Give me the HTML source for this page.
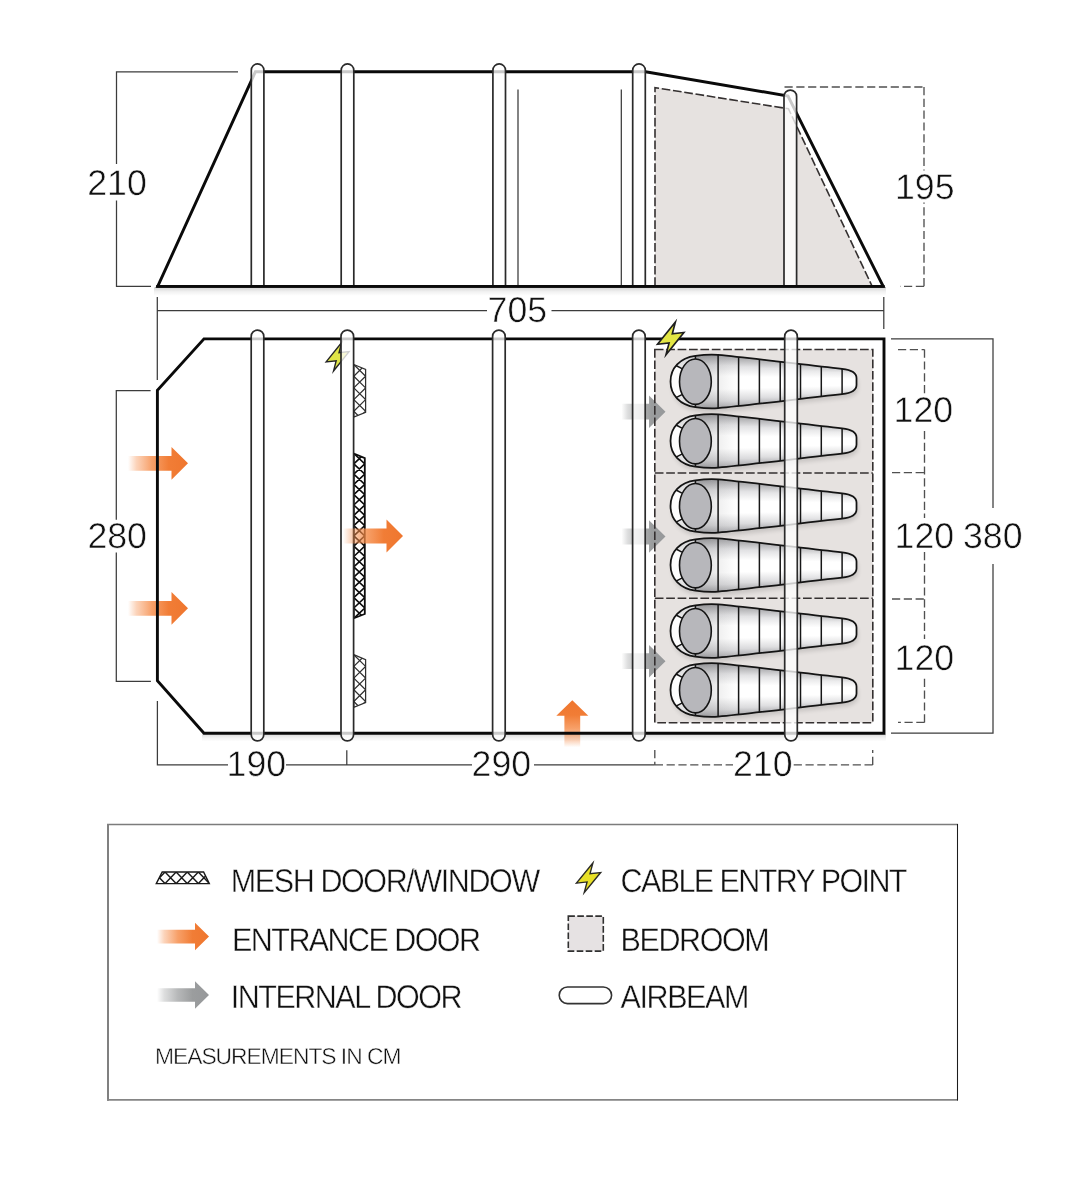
<!DOCTYPE html>
<html><head><meta charset="utf-8"><title>Tent floorplan</title>
<style>
html,body{margin:0;padding:0;background:#fff;}
body{width:1067px;height:1200px;overflow:hidden;font-family:"Liberation Sans",sans-serif;}
svg{display:block;position:absolute;left:0;top:0;}
text{font-family:"Liberation Sans",sans-serif;fill:#111;opacity:0.995;text-rendering:geometricPrecision;}
.num{font-size:35.7px;stroke:#fff;stroke-width:0.55px;}
.lg{font-size:30.5px;letter-spacing:-1.4px;stroke:#fff;stroke-width:0.4px;}
.sm{font-size:22.8px;letter-spacing:-1.0px;stroke:#fff;stroke-width:0.45px;}
.dim{stroke:#3c3c3c;stroke-width:1.25;fill:none;}
.dash{stroke:#505050;stroke-width:1.35;fill:none;stroke-dasharray:8.2 3.6;}
.wall{stroke:#0a0a0a;stroke-width:2.9;fill:none;stroke-linejoin:miter;}
</style></head><body>
<svg width="1067" height="1200" viewBox="0 0 1067 1200">
<defs>
<linearGradient id="gOr" x1="0" y1="0" x2="1" y2="0">
<stop offset="0" stop-color="#f68d4b" stop-opacity="0"/>
<stop offset="0.14" stop-color="#f68d4b" stop-opacity="0.38"/>
<stop offset="0.4" stop-color="#f58843" stop-opacity="0.8"/>
<stop offset="0.68" stop-color="#f17d36" stop-opacity="1"/>
<stop offset="1" stop-color="#ef762e" stop-opacity="1"/>
</linearGradient>
<linearGradient id="gGr" x1="0" y1="0" x2="1" y2="0">
<stop offset="0" stop-color="#a6a8a9" stop-opacity="0"/>
<stop offset="0.14" stop-color="#a6a8a9" stop-opacity="0.38"/>
<stop offset="0.4" stop-color="#a2a4a5" stop-opacity="0.78"/>
<stop offset="0.68" stop-color="#9b9d9e" stop-opacity="1"/>
<stop offset="1" stop-color="#96989a" stop-opacity="1"/>
</linearGradient>
<linearGradient id="gBag" x1="0" y1="0" x2="0" y2="1">
<stop offset="0" stop-color="#9a9a9c"/>
<stop offset="0.22" stop-color="#e2e2e3"/>
<stop offset="0.42" stop-color="#ffffff"/>
<stop offset="0.62" stop-color="#ffffff"/>
<stop offset="0.85" stop-color="#d6d6d8"/>
<stop offset="1" stop-color="#a4a4a6"/>
</linearGradient>
<linearGradient id="gBagH" x1="0" y1="0" x2="1" y2="0">
<stop offset="0" stop-color="#77777a" stop-opacity="0.4"/>
<stop offset="0.2" stop-color="#88888a" stop-opacity="0.22"/>
<stop offset="0.36" stop-color="#999" stop-opacity="0"/>
<stop offset="1" stop-color="#999" stop-opacity="0"/>
</linearGradient>
<linearGradient id="gSh" x1="0" y1="0" x2="0" y2="1">
<stop offset="0" stop-color="#000" stop-opacity="0.17"/>
<stop offset="0.5" stop-color="#000" stop-opacity="0.055"/>
<stop offset="1" stop-color="#000" stop-opacity="0"/>
</linearGradient>
<filter id="soft" x="-20%" y="-20%" width="140%" height="140%"><feGaussianBlur stdDeviation="0.6"/></filter>
<filter id="bagsh" x="-10%" y="-20%" width="120%" height="150%"><feGaussianBlur stdDeviation="2"/></filter>
<g id="bag">
<path id="bagp" d="M0,0 C0,-13.5 9.5,-23.6 24.9,-25.6 C32,-26.6 40,-27.2 47.6,-26.6 C80,-23.6 130,-17.2 171.6,-12.6 C180.5,-11.6 186,-8.2 186,-3.4 V3.4 C186,8.2 180.5,11.6 171.6,12.6 C130,17.2 80,23.6 47.6,26.6 C40,27.2 32,26.6 24.9,25.6 C9.5,23.6 0,13.5 0,0 Z" stroke="none"/><clipPath id="bagclip"><path d="M0,0 C0,-13.5 9.5,-23.6 24.9,-25.6 C32,-26.6 40,-27.2 47.6,-26.6 C80,-23.6 130,-17.2 171.6,-12.6 C180.5,-11.6 186,-8.2 186,-3.4 V3.4 C186,8.2 180.5,11.6 171.6,12.6 C130,17.2 80,23.6 47.6,26.6 C40,27.2 32,26.6 24.9,25.6 C9.5,23.6 0,13.5 0,0 Z"/></clipPath><linearGradient id="sg0" gradientUnits="userSpaceOnUse" x1="0" y1="-26.9" x2="0" y2="26.9"><stop offset="0" stop-color="#969699"/><stop offset="0.2" stop-color="#dedee0"/><stop offset="0.4" stop-color="#ffffff"/><stop offset="0.64" stop-color="#ffffff"/><stop offset="0.86" stop-color="#d6d6d8"/><stop offset="1" stop-color="#a0a0a3"/></linearGradient><linearGradient id="sg1" gradientUnits="userSpaceOnUse" x1="0" y1="-26.9" x2="0" y2="26.9"><stop offset="0" stop-color="#9d9da0"/><stop offset="0.2" stop-color="#e0e0e2"/><stop offset="0.4" stop-color="#ffffff"/><stop offset="0.64" stop-color="#ffffff"/><stop offset="0.86" stop-color="#d9d9db"/><stop offset="1" stop-color="#a6a6a9"/></linearGradient><linearGradient id="sg2" gradientUnits="userSpaceOnUse" x1="0" y1="-24.3" x2="0" y2="24.3"><stop offset="0" stop-color="#a4a4a6"/><stop offset="0.2" stop-color="#e2e2e4"/><stop offset="0.4" stop-color="#ffffff"/><stop offset="0.64" stop-color="#ffffff"/><stop offset="0.86" stop-color="#dbdbdd"/><stop offset="1" stop-color="#acacaf"/></linearGradient><linearGradient id="sg3" gradientUnits="userSpaceOnUse" x1="0" y1="-21.9" x2="0" y2="21.9"><stop offset="0" stop-color="#aaaaad"/><stop offset="0.2" stop-color="#e4e4e6"/><stop offset="0.4" stop-color="#ffffff"/><stop offset="0.64" stop-color="#ffffff"/><stop offset="0.86" stop-color="#dedee0"/><stop offset="1" stop-color="#b2b2b5"/></linearGradient><linearGradient id="sg4" gradientUnits="userSpaceOnUse" x1="0" y1="-19.6" x2="0" y2="19.6"><stop offset="0" stop-color="#b1b1b3"/><stop offset="0.2" stop-color="#e6e6e8"/><stop offset="0.4" stop-color="#ffffff"/><stop offset="0.64" stop-color="#ffffff"/><stop offset="0.86" stop-color="#e1e1e2"/><stop offset="1" stop-color="#b8b8bb"/></linearGradient><linearGradient id="sg5" gradientUnits="userSpaceOnUse" x1="0" y1="-17.4" x2="0" y2="17.4"><stop offset="0" stop-color="#b8b8ba"/><stop offset="0.2" stop-color="#e9e9ea"/><stop offset="0.4" stop-color="#ffffff"/><stop offset="0.64" stop-color="#ffffff"/><stop offset="0.86" stop-color="#e3e3e5"/><stop offset="1" stop-color="#bfbfc1"/></linearGradient><linearGradient id="sg6" gradientUnits="userSpaceOnUse" x1="0" y1="-15.0" x2="0" y2="15.0"><stop offset="0" stop-color="#bebec0"/><stop offset="0.2" stop-color="#ebebec"/><stop offset="0.4" stop-color="#ffffff"/><stop offset="0.64" stop-color="#ffffff"/><stop offset="0.86" stop-color="#e6e6e7"/><stop offset="1" stop-color="#c5c5c6"/></linearGradient><linearGradient id="sg7" gradientUnits="userSpaceOnUse" x1="0" y1="-12.6" x2="0" y2="12.6"><stop offset="0" stop-color="#c5c5c7"/><stop offset="0.2" stop-color="#ededee"/><stop offset="0.4" stop-color="#ffffff"/><stop offset="0.64" stop-color="#ffffff"/><stop offset="0.86" stop-color="#e8e8ea"/><stop offset="1" stop-color="#cbcbcc"/></linearGradient><g clip-path="url(#bagclip)"><rect x="-0.3" y="-28" width="48.2" height="56" fill="url(#sg0)"/><rect x="47.3" y="-28" width="21.1" height="56" fill="url(#sg1)"/><rect x="67.8" y="-28" width="21.4" height="56" fill="url(#sg2)"/><rect x="88.6" y="-28" width="21.4" height="56" fill="url(#sg3)"/><rect x="109.4" y="-28" width="20.9" height="56" fill="url(#sg4)"/><rect x="129.7" y="-28" width="21.4" height="56" fill="url(#sg5)"/><rect x="150.5" y="-28" width="21.4" height="56" fill="url(#sg6)"/><rect x="171.3" y="-28" width="16.0" height="56" fill="url(#sg7)"/></g>
<path d="M0,0 C0,-13.5 9.5,-23.6 24.9,-25.6 C32,-26.6 40,-27.2 47.6,-26.6 C80,-23.6 130,-17.2 171.6,-12.6 C180.5,-11.6 186,-8.2 186,-3.4 V3.4 C186,8.2 180.5,11.6 171.6,12.6 C130,17.2 80,23.6 47.6,26.6 C40,27.2 32,26.6 24.9,25.6 C9.5,23.6 0,13.5 0,0 Z" fill="url(#gBagH)" stroke="none"/>
<path d="M24.9,-25.6 C9.5,-23.6 0,-13.5 0,0 C0,13.5 9.5,23.6 24.9,25.6 Z" fill="#fff" fill-opacity="0.6"/><path d="M5.3,-15.8 C1.5,-10.5 0.8,-5 0.8,0 C0.8,5 1.5,10.5 5.3,16 L11.8,13.2 C9.6,9 9,4.5 9,0.2 C9,-4.5 9.6,-8.6 11.8,-12.8 Z" fill="#fff" fill-opacity="0.9"/>
<path d="M47.6,-26.6 V26.6 M68.1,-24.3 V24.3 M88.9,-21.9 V21.9 M109.7,-19.6 V19.6 M130,-17.4 V17.4 M150.8,-15 V15 M171.6,-12.6 V12.6" stroke="#161616" stroke-width="1.5" fill="none"/>
<path d="M0,0 C0,-13.5 9.5,-23.6 24.9,-25.6 C32,-26.6 40,-27.2 47.6,-26.6 C80,-23.6 130,-17.2 171.6,-12.6 C180.5,-11.6 186,-8.2 186,-3.4 V3.4 C186,8.2 180.5,11.6 171.6,12.6 C130,17.2 80,23.6 47.6,26.6 C40,27.2 32,26.6 24.9,25.6 C9.5,23.6 0,13.5 0,0 Z" fill="none" stroke="#141414" stroke-width="1.75"/>
<ellipse cx="24.9" cy="0.2" rx="15.9" ry="22.7" fill="#b7b7bb" stroke="#141414" stroke-width="1.6"/>
<path d="M24.9,-25.6 V-22.5 M24.9,25.6 V22.9 M5.5,-16 L11.4,-12.8 M5.5,16.2 L11.4,13.2" stroke="#141414" stroke-width="1.5" fill="none"/>
</g>
<g id="arrO"><path d="M0,-7.4 H43.5 V-16.4 L60,0 L43.5,16.4 V7.4 H0 Z" fill="url(#gOr)"/></g>
<g id="arrG"><path d="M0,-7.9 H27.5 V-16.3 L44,0 L27.5,16.3 V7.9 H0 Z" fill="url(#gGr)"/></g>
<path id="bolt" d="M4.7,-16.4 L-13.2,5.9 L-1.6,4.6 L-4.7,16.4 L13.2,-5.9 L1.6,-4.6 Z" stroke-linejoin="miter" stroke-miterlimit="8"/>
</defs>

<!-- side elevation -->
<rect x="154" y="287.4" width="732" height="8.5" fill="url(#gSh)"/>
<polygon points="655,87.6 788.5,108.8 872,286 655,286" fill="#e6e2e0"/>
<path class="dash" style="stroke:#343030;stroke-width:1.6;stroke-dasharray:8.7 2.7" d="M655,286 V87.6 L788.5,108.8 L872,286"/>
<path d="M518,89.5 V286 M621.3,89.5 V286" stroke="#333" stroke-width="1.2" fill="none"/>
<path class="wall" d="M157.7,286.4 L255.4,71.8 H645.5 L788,96 L883.2,286.4 Z"/>
<path d="M251.3,287 V70.2 a6.3,6.3 0 0 1 12.6,0 V287" fill="#fff" fill-opacity="0.78" stroke="#2a2a2a" stroke-width="1.7"/>
<path d="M341.2,287 V70.2 a6.3,6.3 0 0 1 12.6,0 V287" fill="#fff" fill-opacity="0.78" stroke="#2a2a2a" stroke-width="1.7"/>
<path d="M492.9,287 V70.2 a6.3,6.3 0 0 1 12.6,0 V287" fill="#fff" fill-opacity="0.78" stroke="#2a2a2a" stroke-width="1.7"/>
<path d="M632.7,287 V70.2 a6.3,6.3 0 0 1 12.6,0 V287" fill="#fff" fill-opacity="0.78" stroke="#2a2a2a" stroke-width="1.7"/>
<path d="M784.0,287 V96.4 a6.3,6.3 0 0 1 12.6,0 V287" fill="#fff" fill-opacity="0.78" stroke="#2a2a2a" stroke-width="1.7"/>
<path d="M156.2,286.4 H884.6" stroke="#0a0a0a" stroke-width="2.9" fill="none"/>
<path class="dim" d="M238,71.8 H116.5 V164 M116.5,200.5 V286.3 H151"/>
<text class="num" x="87.2" y="195">210</text>
<path class="dash" d="M784.5,87 H924 M924,87 V170.6 M924,286.3 V202.5 M924,286.3 H900"/>
<text class="num" x="895" y="199.3">195</text>
<path class="dim" d="M157.3,297 V380 M157.3,310.6 H487 M551.5,310.6 H883.8 M883.8,297 V329"/>
<text class="num" x="487.6" y="321.5">705</text>
<!-- plan -->
<rect x="202" y="734.2" width="684" height="7.5" fill="url(#gSh)" opacity="0.85"/>
<rect x="654.8" y="349.5" width="218" height="373.2" fill="#e6e2e0"/>
<use href="#arrG" transform="translate(621.5,411.7)"/>
<use href="#arrG" transform="translate(621.5,536.5)"/>
<use href="#arrG" transform="translate(621.5,661.2)"/>
<path style="stroke:#343030;stroke-width:1.6;stroke-dasharray:8.7 2.7;fill:none" d="M654.8,349.5 H872.8 V722.7 H654.8 Z M654.8,473 H872.8 M654.8,598.2 H872.8"/>
<use href="#bagp" transform="translate(672,385.5)" style="fill:#000" opacity="0.13" filter="url(#bagsh)"/>
<use href="#bagp" transform="translate(672,445)" style="fill:#000" opacity="0.13" filter="url(#bagsh)"/>
<use href="#bagp" transform="translate(672,510)" style="fill:#000" opacity="0.13" filter="url(#bagsh)"/>
<use href="#bagp" transform="translate(672,569)" style="fill:#000" opacity="0.13" filter="url(#bagsh)"/>
<use href="#bagp" transform="translate(672,635)" style="fill:#000" opacity="0.13" filter="url(#bagsh)"/>
<use href="#bagp" transform="translate(672,694)" style="fill:#000" opacity="0.13" filter="url(#bagsh)"/>
<use href="#bag" transform="translate(670.5,381.5)"/>
<use href="#bag" transform="translate(670.5,441)"/>
<use href="#bag" transform="translate(670.5,506)"/>
<use href="#bag" transform="translate(670.5,565)"/>
<use href="#bag" transform="translate(670.5,631)"/>
<use href="#bag" transform="translate(670.5,690)"/>
<use href="#arrO" transform="translate(128,463.3)"/>
<use href="#arrO" transform="translate(128,608.3)"/>
<path transform="translate(572.3,747.2) rotate(-90)" d="M0,-7.9 H31.4 V-16 L47,0 L31.4,16 V7.9 H0 Z" fill="url(#gOr)"/>
<path class="wall" d="M204,338.9 H884 V733.2 H204 L157.4,680.8 V390.2 Z"/>
<clipPath id="mc1"><path d="M353.8,364.5 L365.6,369.4 V412.4 L353.8,417 Z"/></clipPath><path d="M353.80,364.50 L365.60,376.20 M365.60,364.50 L353.80,376.20 M353.80,376.20 L365.60,387.90 M365.60,376.20 L353.80,387.90 M353.80,387.90 L365.60,399.60 M365.60,387.90 L353.80,399.60 M353.80,399.60 L365.60,411.30 M365.60,399.60 L353.80,411.30 M353.80,411.30 L365.60,423.00 M365.60,411.30 L353.80,423.00" clip-path="url(#mc1)" stroke="#303030" stroke-width="1.25" fill="none"/><path d="M353.8,364.5 L365.6,369.4 V412.4 L353.8,417 Z" fill="none" stroke="#303030" stroke-width="1.25" stroke-linejoin="miter"/>
<clipPath id="mc2"><path d="M353.8,453.5 L364.8,458.2 V614 L353.8,618.3 Z"/></clipPath><path d="M353.80,453.50 L364.80,463.80 M364.80,453.50 L353.80,463.80 M353.80,463.80 L364.80,474.10 M364.80,463.80 L353.80,474.10 M353.80,474.10 L364.80,484.40 M364.80,474.10 L353.80,484.40 M353.80,484.40 L364.80,494.70 M364.80,484.40 L353.80,494.70 M353.80,494.70 L364.80,505.00 M364.80,494.70 L353.80,505.00 M353.80,505.00 L364.80,515.30 M364.80,505.00 L353.80,515.30 M353.80,515.30 L364.80,525.60 M364.80,515.30 L353.80,525.60 M353.80,525.60 L364.80,535.90 M364.80,525.60 L353.80,535.90 M353.80,535.90 L364.80,546.20 M364.80,535.90 L353.80,546.20 M353.80,546.20 L364.80,556.50 M364.80,546.20 L353.80,556.50 M353.80,556.50 L364.80,566.80 M364.80,556.50 L353.80,566.80 M353.80,566.80 L364.80,577.10 M364.80,566.80 L353.80,577.10 M353.80,577.10 L364.80,587.40 M364.80,577.10 L353.80,587.40 M353.80,587.40 L364.80,597.70 M364.80,587.40 L353.80,597.70 M353.80,597.70 L364.80,608.00 M364.80,597.70 L353.80,608.00 M353.80,608.00 L364.80,618.30 M364.80,608.00 L353.80,618.30 M353.80,618.30 L364.80,628.60 M364.80,618.30 L353.80,628.60" clip-path="url(#mc2)" stroke="#0c0c0c" stroke-width="1.6" fill="none"/><path d="M353.8,453.5 L364.8,458.2 V614 L353.8,618.3 Z" fill="none" stroke="#0c0c0c" stroke-width="1.8" stroke-linejoin="miter"/>
<clipPath id="mc3"><path d="M353.8,654.7 L365.6,659.6 V702.6 L353.8,707.3 Z"/></clipPath><path d="M353.80,654.70 L365.60,666.40 M365.60,654.70 L353.80,666.40 M353.80,666.40 L365.60,678.10 M365.60,666.40 L353.80,678.10 M353.80,678.10 L365.60,689.80 M365.60,678.10 L353.80,689.80 M353.80,689.80 L365.60,701.50 M365.60,689.80 L353.80,701.50 M353.80,701.50 L365.60,713.20 M365.60,701.50 L353.80,713.20" clip-path="url(#mc3)" stroke="#303030" stroke-width="1.25" fill="none"/><path d="M353.8,654.7 L365.6,659.6 V702.6 L353.8,707.3 Z" fill="none" stroke="#303030" stroke-width="1.25" stroke-linejoin="miter"/>
<use href="#bolt" transform="translate(337.6,356.75) scale(0.87)" fill="#e0e548" stroke="#242424" stroke-width="1.55"/>
<rect x="251.2" y="330.1" width="12.6" height="410.79999999999995" rx="6.3" ry="6.3" fill="#fff" fill-opacity="0.78" stroke="#2a2a2a" stroke-width="1.7" />
<rect x="341.0" y="330.1" width="12.6" height="410.79999999999995" rx="6.3" ry="6.3" fill="#fff" fill-opacity="0.78" stroke="#2a2a2a" stroke-width="1.7" />
<rect x="492.6" y="330.1" width="12.6" height="410.79999999999995" rx="6.3" ry="6.3" fill="#fff" fill-opacity="0.78" stroke="#2a2a2a" stroke-width="1.7" />
<rect x="632.6" y="330.1" width="12.6" height="410.79999999999995" rx="6.3" ry="6.3" fill="#fff" fill-opacity="0.78" stroke="#2a2a2a" stroke-width="1.7" />
<rect x="784.7" y="330.1" width="12.6" height="410.79999999999995" rx="6.3" ry="6.3" fill="#fff" fill-opacity="0.78" stroke="#2a2a2a" stroke-width="1.7" />
<use href="#bolt" transform="translate(670.7,338.4)" fill="#e3e644" stroke="#1e1e1e" stroke-width="1.65"/>
<use href="#arrO" transform="translate(343,536)"/>
<path class="dim" d="M150.6,390.6 H116.3 V519.7 M116.3,552.5 V681.3 H150.9"/>
<text class="num" x="87.4" y="548">280</text>
<path class="dim" d="M157.4,701 V764.9 H228 M286,764.9 H472 M534,764.9 H654.8 M346.8,750.3 V764.9"/>
<path class="dash" d="M654.8,750 V764.9 M654.8,764.9 H733 M872.7,764.9 H793.5 M872.7,764.9 V750"/>
<text class="num" x="226.6" y="775.6">190</text>
<text class="num" x="471.6" y="776">290</text>
<text class="num" x="733" y="776">210</text>
<path class="dim" d="M891,338.8 H993 V508 M993,564 V733 H891"/>
<path class="dash" d="M898,349.6 H924.5 M924.5,349.6 V393.5 M924.5,431 V518 M924.5,552 V639 M924.5,722.4 V676 M924.5,722.4 H898 M892,472.6 H924.5 M892,599 H924.5"/>
<text class="num" x="893.6" y="422">120</text>
<text class="num" x="894.6" y="547.8">120</text>
<text class="num" x="963" y="548">380</text>
<text class="num" x="894.6" y="669.5">120</text>
<!-- legend -->
<path d="M107,824.6 H958" stroke="#7c7c7c" stroke-width="1.5" fill="none"/>
<path d="M108,823.9 V1100.7" stroke="#808080" stroke-width="2" fill="none"/>
<path d="M107,1099.9 H958" stroke="#858585" stroke-width="1.6" fill="none"/>
<path d="M957.5,823.9 V1100.6" stroke="#1c1c1c" stroke-width="1.05" fill="none"/>
<clipPath id="mc4"><path d="M162.2,872 H203.6 L209.3,883.6 H156.3 Z"/></clipPath><path d="M153.95,872.00 L165.05,883.60 M165.05,872.00 L153.95,883.60 M165.05,872.00 L176.15,883.60 M176.15,872.00 L165.05,883.60 M176.15,872.00 L187.25,883.60 M187.25,872.00 L176.15,883.60 M187.25,872.00 L198.35,883.60 M198.35,872.00 L187.25,883.60 M198.35,872.00 L209.45,883.60 M209.45,872.00 L198.35,883.60" clip-path="url(#mc4)" stroke="#1a1a1a" stroke-width="1.4" fill="none"/><path d="M162.2,872 H203.6 L209.3,883.6 H156.3 Z" fill="none" stroke="#1a1a1a" stroke-width="1.4" stroke-linejoin="miter"/>
<text class="lg" transform="translate(230.8,892.4) scale(1.0,1.075)">MESH DOOR/WINDOW</text>
<path transform="translate(157,936.6)" d="M0,-6.85 H38 V-13.75 L52,0 L38,13.75 V6.85 H0 Z" fill="url(#gOr)"/>
<text class="lg" style="letter-spacing:-1.57px" transform="translate(232.1,950.7) scale(1.0,1.075)">ENTRANCE DOOR</text>
<path transform="translate(157,995)" d="M0,-6.85 H38 V-13.75 L52,0 L38,13.75 V6.85 H0 Z" fill="url(#gGr)"/>
<text class="lg" style="letter-spacing:-1.5px" transform="translate(230.8,1008.4) scale(1.0,1.075)">INTERNAL DOOR</text>
<text class="sm" x="155" y="1063.6">MEASUREMENTS IN CM</text>
<use href="#bolt" transform="translate(588.55,877.8) scale(0.92,0.9)" fill="#e8e028" stroke="#2a2a26" stroke-width="1.5"/>
<text class="lg" style="letter-spacing:-1.59px" transform="translate(620.5,892.4) scale(1.0,1.075)">CABLE ENTRY POINT</text>
<rect x="568.3" y="916.1" width="35" height="35" fill="#e6e2e3" stroke="#303030" stroke-width="1.6" stroke-dasharray="6.6 2.4"/>
<text class="lg" transform="translate(620.5,950.7) scale(1.0,1.075)">BEDROOM</text>
<rect x="559.2" y="987" width="52.4" height="16.6" rx="8.3" fill="#fff" stroke="#333" stroke-width="1.6"/>
<text class="lg" transform="translate(620.5,1008.4) scale(1.0,1.075)">AIRBEAM</text>
</svg></body></html>
